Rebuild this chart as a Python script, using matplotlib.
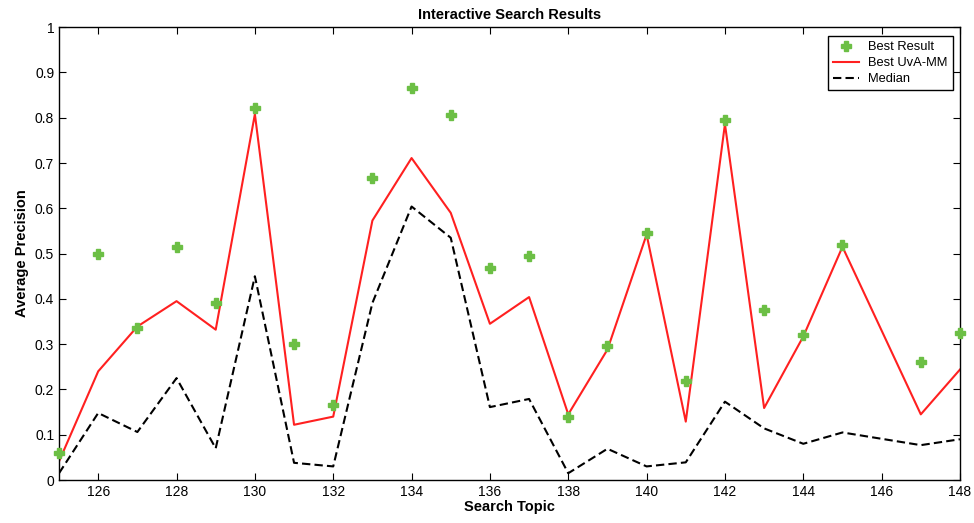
import numpy as np
import matplotlib
matplotlib.use("Agg")
import matplotlib.pyplot as plt

plt.rcParams.update({"font.family": ["Liberation Sans", "DejaVu Sans"], "font.size": 10})

# topics (146 has no result)
topics = [125, 126, 127, 128, 129, 130, 131, 132, 133, 134, 135, 136,
          137, 138, 139, 140, 141, 142, 143, 144, 145, 147, 148]
best_result = [0.059, 0.500, 0.336, 0.514, 0.391, 0.821, 0.301, 0.165, 0.666, 0.866, 0.807, 0.468,
               0.494, 0.140, 0.297, 0.545, 0.219, 0.796, 0.375, 0.320, 0.518, 0.260, 0.325]
best_uva = [0.041, 0.240, 0.339, 0.395, 0.332, 0.808, 0.122, 0.140, 0.573, 0.711, 0.590, 0.345,
            0.404, 0.145, 0.288, 0.542, 0.129, 0.786, 0.159, 0.317, 0.515, 0.145, 0.244]
median = [0.015, 0.148, 0.106, 0.225, 0.070, 0.450, 0.038, 0.030, 0.391, 0.604, 0.535, 0.161,
          0.179, 0.015, 0.069, 0.030, 0.039, 0.173, 0.114, 0.080, 0.105, 0.077, 0.090]

fig = plt.figure(figsize=(9.74, 5.23), dpi=100)
ax = fig.add_axes([0.0606, 0.0822, 0.925, 0.8658])

ax.plot(topics, best_result, "P", color="#6cbf45", ms=7, mec="#6cbf45", lw=0,
        label="Best Result", clip_on=False, zorder=4)
ax.plot(topics, best_uva, "-", color="#ff2020", lw=1.5, label="Best UvA-MM")
ax.plot(topics, median, "--", color="black", lw=1.5, dashes=(4, 2), label="Median")

ax.set_xlim(125, 148)
ax.set_ylim(0, 1)
ax.set_xticks(range(126, 149, 2))
ax.set_yticks(np.arange(0, 1.01, 0.1))
ax.set_yticklabels(["0"] + [f"{v:.1f}" for v in np.arange(0.1, 0.95, 0.1)] + ["1"])
ax.tick_params(direction="in", top=True, right=True, length=5, labelsize=10)
for s in ax.spines.values():
    s.set_linewidth(1.0)

ax.set_title("Interactive Search Results", fontsize=10.5, fontweight="bold", pad=6)
ax.set_xlabel("Search Topic", fontsize=10.5, fontweight="bold", labelpad=1)
ax.set_ylabel("Average Precision", fontsize=10.5, fontweight="bold", labelpad=4)

leg = ax.legend(loc="upper right", bbox_to_anchor=(0.992, 0.98), fancybox=False, framealpha=1,
                edgecolor="black", fontsize=9.3, borderpad=0.4, labelspacing=0.3,
                handlelength=2.0, handletextpad=0.7, borderaxespad=0)
leg.get_frame().set_linewidth(1.0)

fig.savefig("out.png", dpi=100)
